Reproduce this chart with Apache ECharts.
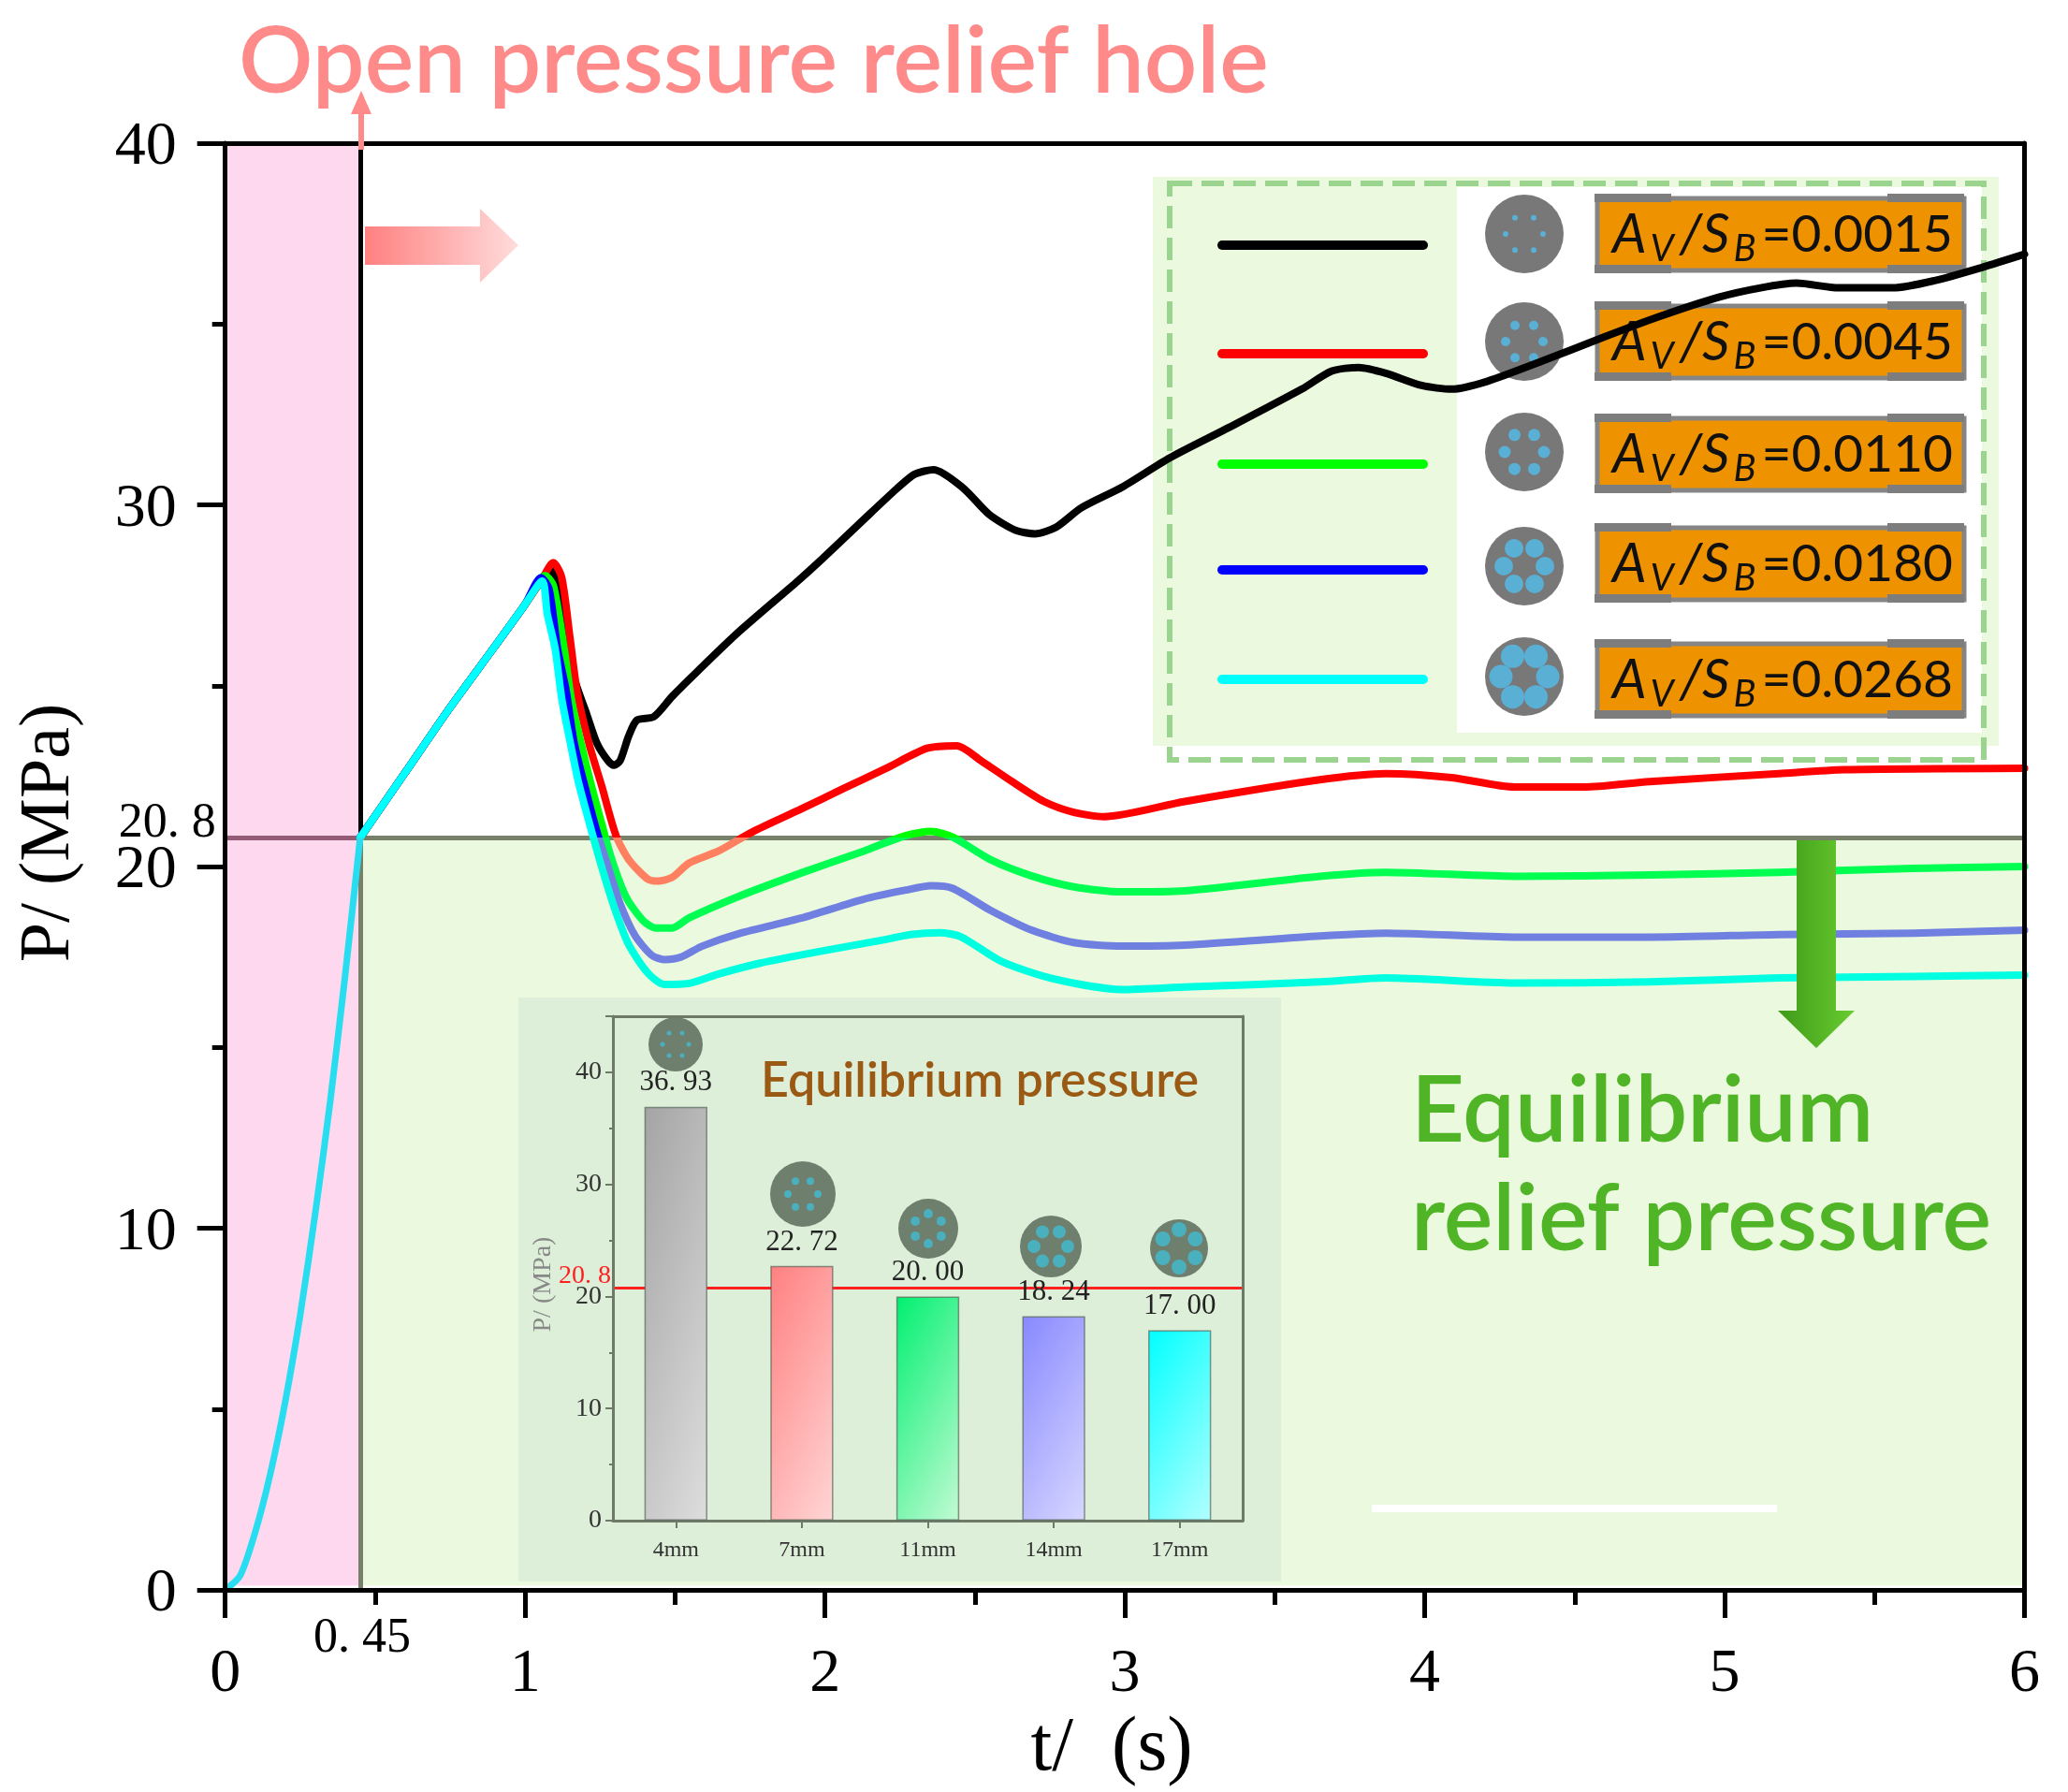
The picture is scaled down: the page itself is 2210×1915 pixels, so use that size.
<!DOCTYPE html>
<html>
<head>
<meta charset="utf-8">
<title>Pressure relief</title>
<script src="https://cdn.jsdelivr.net/npm/echarts@6/dist/echarts.min.js"></script>
<style>
  html, body { margin: 0; padding: 0; background: #fff; }
  #main { width: 2210px; height: 1915px; }
</style>
</head>
<body>
<div id="main"></div>
<script>
// values: [t (s), P (MPa)]
var ramp = [[0, 0], [0.05, 0.4], [0.1, 1.6], [0.15, 3.2], [0.2, 5.2], [0.25, 7.6], [0.3, 10.4], [0.35, 13.5], [0.4, 17], [0.45, 20.8]];
var rise = [[0.45, 20.8], [0.6, 22.6], [0.75, 24.4], [0.9, 26.1], [1.0, 27.25]];

var black = [[1.045, 27.8], [1.087, 28.2], [1.122, 26.9], [1.164, 25.2], [1.206, 24.2], [1.24, 23.4], [1.276, 22.93], [1.296, 22.8], [1.317, 22.93], [1.345, 23.6], [1.373, 24.05], [1.429, 24.14], [1.49, 24.7], [1.575, 25.4], [1.714, 26.5], [1.91, 27.9], [1.99, 28.5], [2.13, 29.6], [2.24, 30.45], [2.3, 30.85], [2.362, 30.97], [2.46, 30.47], [2.547, 29.74], [2.635, 29.3], [2.7, 29.2], [2.77, 29.38], [2.855, 29.92], [2.993, 30.5], [3.15, 31.3], [3.35, 32.15], [3.59, 33.2], [3.69, 33.7], [3.78, 33.8], [3.87, 33.64], [3.99, 33.3], [4.09, 33.2], [4.21, 33.42], [4.39, 33.97], [4.585, 34.6], [4.78, 35.2], [4.98, 35.74], [5.12, 36.0], [5.24, 36.13], [5.38, 36.0], [5.56, 36.0], [5.7, 36.2], [5.86, 36.57], [6, 36.93]];
var red = [[1.05, 27.85], [1.094, 28.4], [1.122, 28.0], [1.15, 26.3], [1.174, 24.8], [1.213, 23.4], [1.255, 22.24], [1.303, 20.86], [1.345, 20.2], [1.408, 19.66], [1.443, 19.6], [1.49, 19.7], [1.547, 20.1], [1.645, 20.43], [1.756, 20.95], [1.923, 21.6], [2.06, 22.15], [2.2, 22.7], [2.34, 23.27], [2.44, 23.34], [2.52, 22.93], [2.62, 22.37], [2.73, 21.8], [2.83, 21.5], [2.93, 21.38], [3.2, 21.8], [3.65, 22.4], [3.87, 22.57], [4.09, 22.46], [4.3, 22.2], [4.53, 22.2], [4.75, 22.35], [5.18, 22.57], [5.4, 22.68], [6, 22.72]];
var green = [[1.067, 28.05], [1.095, 27.75], [1.13, 26.03], [1.157, 24.5], [1.213, 22.5], [1.255, 21.2], [1.29, 20.17], [1.338, 19.14], [1.394, 18.5], [1.436, 18.3], [1.49, 18.3], [1.547, 18.58], [1.714, 19.18], [1.923, 19.83], [2.13, 20.43], [2.27, 20.86], [2.355, 20.97], [2.425, 20.82], [2.55, 20.2], [2.69, 19.74], [2.83, 19.44], [2.99, 19.3], [3.2, 19.33], [3.65, 19.73], [3.87, 19.84], [4.3, 19.73], [4.75, 19.77], [5.18, 19.84], [5.63, 19.95], [6, 20.0]];
var blue = [[1.053, 27.99], [1.08, 27.67], [1.108, 26.03], [1.136, 24.9], [1.164, 23.4], [1.206, 22], [1.24, 20.95], [1.283, 19.83], [1.317, 18.97], [1.366, 18.1], [1.422, 17.55], [1.464, 17.43], [1.52, 17.5], [1.59, 17.8], [1.714, 18.15], [1.923, 18.58], [2.13, 19.1], [2.27, 19.35], [2.355, 19.47], [2.425, 19.4], [2.55, 18.8], [2.69, 18.24], [2.83, 17.9], [2.99, 17.8], [3.2, 17.83], [3.65, 18.08], [3.87, 18.16], [4.3, 18.05], [4.75, 18.05], [5.18, 18.12], [5.63, 18.16], [6, 18.24]];
var cyan = [[1.057, 27.9], [1.074, 26.98], [1.1, 26.03], [1.122, 24.65], [1.15, 23.45], [1.178, 22.33], [1.22, 21.03], [1.255, 20], [1.297, 18.88], [1.345, 17.85], [1.408, 17.07], [1.464, 16.74], [1.547, 16.77], [1.645, 17.03], [1.784, 17.33], [1.993, 17.67], [2.2, 17.98], [2.285, 18.12], [2.383, 18.17], [2.453, 18.06], [2.59, 17.37], [2.76, 16.9], [2.99, 16.6], [3.2, 16.67], [3.65, 16.81], [3.87, 16.92], [4.3, 16.78], [4.75, 16.81], [5.18, 16.92], [5.63, 16.96], [6, 17.0]];

var openTime = 0.45;
var reliefPressure = 20.8;

var ratios = ['0.0015', '0.0045', '0.0110', '0.0180', '0.0268'];
var holeSizes = ['4mm', '7mm', '11mm', '14mm', '17mm'];
var equilibrium = [36.93, 22.72, 20.00, 18.24, 17.00];

var curves = [black, red, green, blue, cyan];
var curveColors = ['#000000', '#ff0000', '#00ff00', '#0000ff', '#00ffff'];
// same curve seen through the green zone
var tintColors = ['#000000', '#ff8060', '#00ff50', '#7080e0', '#00ffe0'];
var barColors = [['#a4a4a4', '#dedede'], ['#ff8080', '#ffd6d6'], ['#00f070', '#c4fad4'], ['#8888ff', '#d8d8ff'], ['#00ffff', '#b4ffff']];

var SERIF = '"Liberation Serif", serif';
var SANS = 'Lato, sans-serif';

var series = [];
var visualMaps = [];
curves.forEach(function (c, i) {
  // no lineStyle.color here, it would win over the visualMap gradient
  series.push({
    type: 'line',
    data: rise.concat(c),
    z: 5,
    smooth: 0.25,
    showSymbol: false,
    silent: true,
    lineStyle: { width: 8, cap: 'round', join: 'round' }
  });
  // pieces need finite ends or the line gets no gradient stops
  visualMaps.push({
    type: 'piecewise',
    show: false,
    seriesIndex: i,
    dimension: 1,
    pieces: [
      { gte: 0, lt: reliefPressure, color: tintColors[i] },
      { gte: reliefPressure, lte: 40, color: curveColors[i] }
    ]
  });
});

// first part of the pressure build up, inside the pink zone
series.push({
  type: 'line',
  data: ramp,
  z: 5,
  smooth: 0.25,
  showSymbol: false,
  silent: true,
  lineStyle: { width: 7, color: '#28ddf0' }
});

// zones and the two threshold lines
series.push({
  type: 'line',
  data: [[openTime, reliefPressure]],
  showSymbol: false,
  silent: true,
  lineStyle: { width: 0 },
  markArea: {
    silent: true,
    z: 1,
    data: [
      [{ coord: [0, 0.12], itemStyle: { color: '#fdd8ef' } }, { coord: [openTime, 40] }],
      [{ coord: [openTime, 0.12], itemStyle: { color: '#ebf9de' } }, { coord: [6, reliefPressure] }]
    ]
  },
  markLine: {
    silent: true,
    z: 4,
    symbol: 'none',
    label: { show: false },
    data: [
      [{ coord: [0, reliefPressure], lineStyle: { color: '#955a76', width: 5, type: 'solid' } }, { coord: [openTime, reliefPressure] }],
      [{ coord: [openTime, reliefPressure], lineStyle: { color: '#77816a', width: 5, type: 'solid' } }, { coord: [6, reliefPressure] }],
      [{ coord: [openTime, reliefPressure], lineStyle: { color: '#000', width: 5, type: 'solid' } }, { coord: [openTime, 40] }],
      [{ coord: [openTime, 0], lineStyle: { color: '#77816a', width: 5, type: 'solid' } }, { coord: [openTime, reliefPressure] }]
    ]
  }
});

// the two extra tick labels
var extraLabel = { show: true, color: '#000', fontFamily: SERIF, fontSize: 52 };
series.push({
  type: 'scatter',
  symbolSize: 0,
  silent: true,
  z: 11,
  itemStyle: { opacity: 1 },
  data: [
    { value: [0, reliefPressure], label: Object.assign({}, extraLabel, { formatter: '20. 8', position: 'left', distance: 10, offset: [0, -15] }) },
    { value: [openTime, 0], label: Object.assign({}, extraLabel, { formatter: '0. 45', position: 'bottom', distance: 20, offset: [2, 6] }) }
  ]
});

// corner to corner shading of an inset bar, bar size in px is only used for the slope
function barGradient(v, stops) {
  var w = 67, h = v * 12;
  var len2 = 1 / (0.1225 / (w * w) + 0.4225 / (h * h));
  return new echarts.graphic.LinearGradient(0, 0, (0.35 * len2 / w) / w, (0.65 * len2 / h) / h, [
    { offset: 0, color: stops[0] },
    { offset: 1, color: stops[1] }
  ]);
}

// inset bars
series.push({
  type: 'bar',
  xAxisIndex: 2,
  yAxisIndex: 2,
  z: 4,
  barWidth: '50%',
  silent: true,
  data: equilibrium.map(function (v, i) {
    return { value: v, itemStyle: { color: barGradient(v, barColors[i]) } };
  }),
  itemStyle: { borderColor: 'rgba(80,95,85,0.65)', borderWidth: 1.5 },
  label: {
    show: true,
    position: 'top',
    distance: 10,
    color: '#222',
    fontFamily: SERIF,
    fontSize: 31,
    formatter: function (p) { return p.value.toFixed(2).replace('.', '. '); }
  },
  markLine: {
    silent: true,
    z: 3,
    symbol: 'none',
    label: {
      show: true,
      position: 'start',
      formatter: '20. 8',
      color: '#ff2020',
      fontFamily: SERIF,
      fontSize: 28,
      distance: 2,
      offset: [0, -12]
    },
    lineStyle: { color: '#ff2020', width: 3, type: 'solid' },
    data: [{ yAxis: reliefPressure }]
  }
});

// legend box, icons, arrows and free text
var graphics = [];

function holeIcon(cx, cy, r, holeR, holeDist, turn, bodyColor, holeColor, z) {
  graphics.push({ type: 'circle', z: z, silent: true, shape: { cx: cx, cy: cy, r: r }, style: { fill: bodyColor } });
  for (var k = 0; k < 6; k++) {
    var a = (k * 60 + turn) * Math.PI / 180;
    graphics.push({
      type: 'circle', z: z, silent: true,
      shape: { cx: cx + holeDist * Math.cos(a), cy: cy + holeDist * Math.sin(a), r: holeR },
      style: { fill: holeColor }
    });
  }
}

graphics.push({ type: 'rect', z: 1, silent: true, shape: { x: 1232, y: 189, width: 904, height: 608 }, style: { fill: '#ebf9de' } });
graphics.push({ type: 'rect', z: 1, silent: true, shape: { x: 1557, y: 200, width: 561, height: 583 }, style: { fill: '#fff' } });
graphics.push({
  type: 'rect', z: 2, silent: true,
  shape: { x: 1250, y: 196, width: 870, height: 616 },
  style: { fill: null, stroke: '#9bd48e', lineWidth: 6, lineDash: [24, 10] }
});

var legendY = [262, 378, 496, 609, 726];
var iconY = [250, 365, 483, 605, 723];
var boxY = [209, 324, 444, 561, 685];
var iconHoleR = [3, 5, 6.5, 10, 12.5];
var iconHoleDist = [20, 20, 21, 22, 25];
ratios.forEach(function (r, i) {
  graphics.push({
    type: 'line', z: 2, silent: true,
    shape: { x1: 1306, y1: legendY[i], x2: 1521, y2: legendY[i] },
    style: { stroke: curveColors[i], lineWidth: 10, lineCap: 'round' }
  });
  holeIcon(1629, iconY[i], 42, iconHoleR[i], iconHoleDist[i], 0, '#787878', '#5aafd5', 2);
  graphics.push({ type: 'rect', z: 2, silent: true, shape: { x: 1707, y: boxY[i] + 3, width: 392, height: 77 }, style: { fill: '#ee9200', stroke: '#858585', lineWidth: 5 } });
  // corner tabs of the label plate
  [[1707, boxY[i]], [2020, boxY[i]], [1707, boxY[i] + 76], [2020, boxY[i] + 76]].forEach(function (p) {
    graphics.push({ type: 'rect', z: 2, silent: true, shape: { x: p[0] - 3, y: p[1] - 2, width: 82, height: 9 }, style: { fill: '#7d7d7d' } });
  });
  graphics.push({
    type: 'text', z: 2, silent: true,
    style: {
      x: 1723, y: boxY[i] + 42,
      verticalAlign: 'middle',
      text: '{i|A}{s|V}{i|/S}{s|B}{n|=' + r + '}',
      rich: {
        i: { fontFamily: SANS, fontStyle: 'italic', fontSize: 58, fill: '#111', color: '#111', padding: [0, 2, 0, 0] },
        s: { fontFamily: SANS, fontStyle: 'italic', fontSize: 40, fill: '#111', color: '#111', padding: [30, 6, 0, 2] },
        n: { fontFamily: SANS, fontSize: 55, fill: '#111', color: '#111' }
      }
    }
  });
});

// inset panel and its icons
graphics.push({ type: 'rect', z: 2, silent: true, shape: { x: 554, y: 1066, width: 815, height: 624 }, style: { fill: '#ddefd8' } });
holeIcon(722, 1116, 29, 2.5, 14, 0, '#6e7f6e', '#4bb0be', 3);
holeIcon(858, 1276, 35, 4, 16, 0, '#6e7f6e', '#4bb0be', 3);
holeIcon(992, 1313, 32, 5, 16, 30, '#6e7f6e', '#4bb0be', 3);
holeIcon(1123, 1332, 33, 7, 18, 0, '#6e7f6e', '#4bb0be', 3);
holeIcon(1260, 1334, 31, 8, 20, 30, '#6e7f6e', '#4bb0be', 3);

graphics.push({
  type: 'text', z: 3, silent: true,
  style: { x: 813, y: 1155, verticalAlign: 'middle', text: 'Equilibrium pressure', fontFamily: SANS, fontSize: 52, fontWeight: 600, fill: '#9b5a14' }
});

// arrows
graphics.push({
  type: 'polygon', z: 6, silent: true,
  shape: { points: [[390, 242], [513, 242], [513, 223], [554, 262], [513, 302], [513, 283], [390, 283]] },
  style: { fill: new echarts.graphic.LinearGradient(0, 0, 1, 0, [{ offset: 0, color: '#ff8080' }, { offset: 1, color: '#ffdcdc' }]) }
});
graphics.push({
  type: 'polygon', z: 12, silent: true,
  shape: { points: [[383, 160], [383, 122], [375, 122], [386, 97], [397, 122], [389, 122], [389, 160]] },
  style: { fill: '#ff8a8a' }
});
graphics.push({
  type: 'polygon', z: 6, silent: true,
  shape: { points: [[1920, 898], [1962, 898], [1962, 1080], [1982, 1080], [1941, 1120], [1900, 1080], [1920, 1080]] },
  style: { fill: new echarts.graphic.LinearGradient(0, 0, 1, 0, [{ offset: 0, color: '#3f9a18' }, { offset: 1, color: '#68cc30' }]) }
});

// white stroke that sits in the green zone
graphics.push({ type: 'rect', z: 2, silent: true, shape: { x: 1466, y: 1608, width: 433, height: 8 }, style: { fill: '#fff' } });

graphics.push({
  type: 'text', z: 6, silent: true,
  style: { x: 255, y: 67, verticalAlign: 'middle', text: 'Open pressure relief hole', fontFamily: SANS, fontSize: 99, fontWeight: 600, fill: '#ff8a8a' }
});
graphics.push({
  type: 'text', z: 6, silent: true,
  style: { x: 1508, y: 1188, verticalAlign: 'middle', text: 'Equilibrium', fontFamily: SANS, fontSize: 99, fontWeight: 600, fill: '#4fb426' }
});
graphics.push({
  type: 'text', z: 6, silent: true,
  style: { x: 1508, y: 1304, verticalAlign: 'middle', text: 'relief pressure', fontFamily: SANS, fontSize: 99, fontWeight: 600, fill: '#4fb426' }
});

var option = {
  backgroundColor: '#fff',
  animation: false,
  visualMap: visualMaps,
  graphic: { elements: graphics },
  grid: [
    { left: 240.7, top: 153, width: 1922.8, height: 1547.7 },
    { left: 655, top: 1086, width: 673, height: 539 }
  ],
  xAxis: [
    {
      type: 'value', min: 0, max: 6, interval: 1, z: 10,
      name: 't/  (s)', nameLocation: 'middle', nameGap: 107,
      nameTextStyle: { fontFamily: SERIF, fontSize: 82, color: '#000', padding: [0, 28, 0, 0] },
      axisLine: { show: true, onZero: false, lineStyle: { color: '#000', width: 5 } },
      axisTick: { show: true, length: 30, lineStyle: { color: '#000', width: 5 } },
      minorTick: { show: true, splitNumber: 2, length: 16, lineStyle: { color: '#000', width: 5 } },
      axisLabel: { color: '#000', fontFamily: SERIF, fontSize: 66, margin: 58 },
      splitLine: { show: false }
    },
    {
      type: 'value', min: 0, max: 6, position: 'top', z: 10,
      axisLine: { show: true, onZero: false, lineStyle: { color: '#000', width: 5 } },
      axisTick: { show: false }, axisLabel: { show: false }, splitLine: { show: false }
    },
    {
      type: 'category', gridIndex: 1, data: holeSizes, z: 3,
      axisLine: { show: true, onZero: false, lineStyle: { color: '#6e7a68', width: 3 } },
      axisTick: { show: true, alignWithLabel: true, length: 8, lineStyle: { color: '#6e7a68', width: 2 } },
      axisLabel: { color: '#333', fontFamily: SERIF, fontSize: 24, margin: 20 },
      splitLine: { show: false }
    },
    {
      type: 'category', gridIndex: 1, data: holeSizes, position: 'top', z: 3,
      axisLine: { show: true, onZero: false, lineStyle: { color: '#6e7a68', width: 3 } },
      axisTick: { show: false }, axisLabel: { show: false }, splitLine: { show: false }
    }
  ],
  yAxis: [
    {
      type: 'value', min: 0, max: 40, interval: 10, z: 10,
      name: 'P/ (MPa)', nameLocation: 'middle', nameGap: 150,
      nameTextStyle: { fontFamily: SERIF, fontSize: 76, color: '#000', padding: [0, 0, 0, 72] },
      axisLine: { show: true, onZero: false, lineStyle: { color: '#000', width: 5 } },
      axisTick: { show: true, length: 30, lineStyle: { color: '#000', width: 5 } },
      minorTick: { show: true, splitNumber: 2, length: 14, lineStyle: { color: '#000', width: 5 } },
      axisLabel: {
        margin: 52,
        formatter: '{v|{value}}',
        rich: { v: { color: '#000', fontFamily: SERIF, fontSize: 66, padding: [10, 0, 0, 0] } }
      },
      splitLine: { show: false }
    },
    {
      type: 'value', min: 0, max: 40, position: 'right', z: 10,
      axisLine: { show: true, onZero: false, lineStyle: { color: '#000', width: 5 } },
      axisTick: { show: false }, axisLabel: { show: false }, splitLine: { show: false }
    },
    {
      type: 'value', gridIndex: 1, min: 0, max: 45, interval: 10, z: 3,
      name: 'P/ (MPa)', nameLocation: 'middle', nameGap: 60, nameTextStyle: { fontFamily: SERIF, fontSize: 28, color: '#888', padding: [0, 34, 0, 0] },
      axisLine: { show: true, onZero: false, lineStyle: { color: '#6e7a68', width: 3 } },
      axisTick: { show: true, length: 8, lineStyle: { color: '#6e7a68', width: 2 } },
      minorTick: { show: true, splitNumber: 2, length: 4, lineStyle: { color: '#6e7a68', width: 2 } },
      axisLabel: { color: '#333', fontFamily: SERIF, fontSize: 28, margin: 12, showMaxLabel: false },
      splitLine: { show: false }
    },
    {
      type: 'value', gridIndex: 1, min: 0, max: 45, position: 'right', z: 3,
      axisLine: { show: true, onZero: false, lineStyle: { color: '#6e7a68', width: 3 } },
      axisTick: { show: false }, axisLabel: { show: false }, splitLine: { show: false }
    }
  ],
  series: series
};

var chart = echarts.init(document.getElementById('main'));
chart.setOption(option);
</script>
</body>
</html>
